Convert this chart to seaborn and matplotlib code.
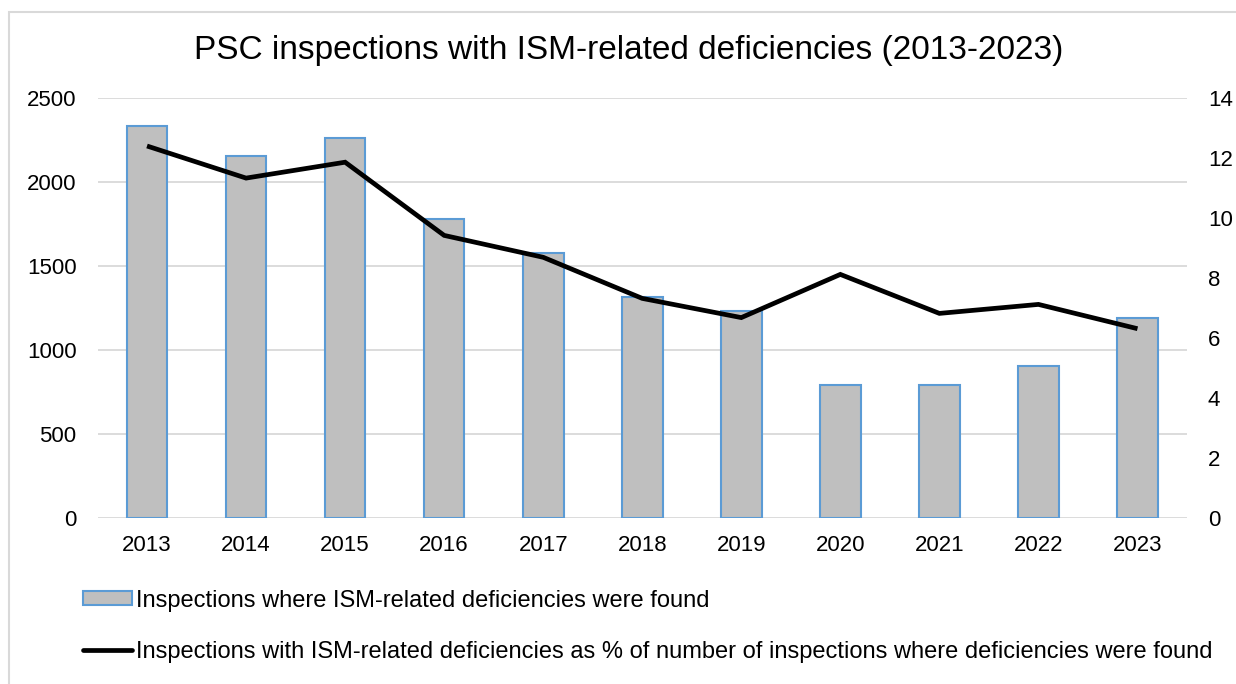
import numpy as np
import pandas as pd
import matplotlib
matplotlib.use("Agg")
import matplotlib.pyplot as plt
import matplotlib.patches as mpatches
from matplotlib.lines import Line2D
import seaborn as sns

years = ["2013", "2014", "2015", "2016", "2017", "2018", "2019", "2020", "2021", "2022", "2023"]
ism_inspections = [2333, 2154, 2261, 1778, 1575, 1318, 1235, 793, 793, 907, 1193]
ism_share_pct = [12.40, 11.33, 11.86, 9.42, 8.69, 7.32, 6.68, 8.12, 6.82, 7.12, 6.31]

bar_label = "Inspections where ISM-related deficiencies were found"
line_label = ("Inspections with ISM-related deficiencies as % of number of "
              "inspections where deficiencies were found")
title = "PSC inspections with ISM-related deficiencies (2013-2023)"

sns.set_theme(style="white")
plt.rcParams["font.family"] = ["Liberation Sans", "DejaVu Sans"]
plt.rcParams["text.color"] = "black"
plt.rcParams["xtick.color"] = "black"
plt.rcParams["ytick.color"] = "black"

df = pd.DataFrame({"year": years, "count": ism_inspections, "pct": ism_share_pct})
df["pos"] = np.arange(len(years))

fig = plt.figure(figsize=(12.36, 6.84), dpi=100)
ax = fig.add_axes([97.5 / 1236, 166 / 684, 1089.5 / 1236, 420 / 684])

bar_face = "#BFBFBF"
bar_edge = "#5B9BD5"
grid_c = "#D9D9D9"

sns.barplot(data=df, x="year", y="count", color=bar_face, width=0.41,
            edgecolor=bar_edge, linewidth=1.5, saturation=1, ax=ax, zorder=3)
ax.set_ylim(0, 2500)
ax.set_yticks(np.arange(0, 2501, 500))
ax.set_xlim(-0.5, len(years) - 0.5)
ax.yaxis.grid(True, color=grid_c, linewidth=1.3, zorder=0)
ax.set_axisbelow(True)
for s in ax.spines.values():
    s.set_visible(False)
ax.set_xlabel("")
ax.set_ylabel("")
ax.tick_params(axis="both", length=0, labelsize=16, labelcolor="black")
ax.tick_params(axis="x", pad=12)
ax.tick_params(axis="y", pad=15)

ax2 = ax.twinx()
sns.lineplot(data=df, x="pos", y="pct", color="black", linewidth=3.4, ax=ax2,
             zorder=4, solid_joinstyle="miter", solid_capstyle="butt")
ax2.set_ylim(0, 14)
ax2.set_yticks(np.arange(0, 15, 2))
ax2.set_xlim(-0.5, len(years) - 0.5)
ax2.set_ylabel("")
ax2.set_xlabel("")
for s in ax2.spines.values():
    s.set_visible(False)
ax2.tick_params(axis="y", length=0, labelsize=16, labelcolor="black", pad=15)
ax2.grid(False)

fig.text(0.509, 1 - 50 / 684, title, ha="center", va="center",
         fontsize=24, color="black")

handles = [
    mpatches.Patch(facecolor=bar_face, edgecolor=bar_edge, linewidth=1.5, label=bar_label),
    Line2D([0], [0], color="black", linewidth=3.4, label=line_label),
]
fig.legend(handles=handles, loc="lower left", bbox_to_anchor=(83 / 1236, 21 / 684),
           frameon=False, fontsize=17, handlelength=2.08, handleheight=0.55,
           handletextpad=0.17, labelspacing=1.24, borderaxespad=0, borderpad=0,
           labelcolor="black")

# light outer frame around the chart area
fig.add_artist(mpatches.Rectangle((9 / 1236, -0.05), 1.2, 0.05 + 1 - 12 / 684,
                                  transform=fig.transFigure, fill=False,
                                  edgecolor="#D9D9D9", linewidth=1.5))

fig.savefig("out.png", dpi=100, facecolor="white")
